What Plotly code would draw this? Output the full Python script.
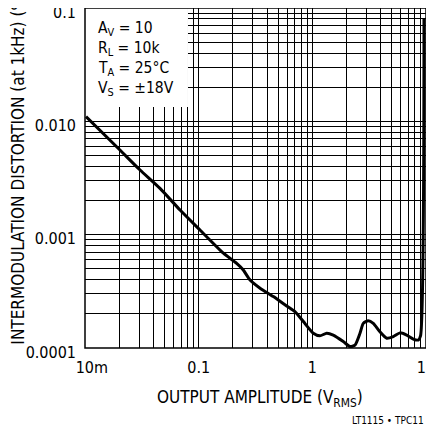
import plotly.graph_objects as go

# Output amplitude (V RMS) and intermodulation distortion (%)
amplitude = [0.0102, 0.0203, 0.0305, 0.0457, 0.0686, 0.1027, 0.165, 0.216, 0.247, 0.283,
             0.347, 0.454, 0.594, 0.703, 0.834, 1.02, 1.167, 1.337, 1.528, 1.872,
             2.144, 2.372, 2.626, 2.808, 3.107, 3.437, 3.936, 4.51, 5.155, 5.90,
             6.76, 7.73, 8.55, 8.95, 9.60]
distortion = [0.0110, 0.00558, 0.00372, 0.00256, 0.00165, 0.00110, 0.000686, 0.000558, 0.000488, 0.000398,
              0.000337, 0.000284, 0.000235, 0.000209, 0.000171, 0.000135, 0.000128, 0.000135, 0.000130, 0.000114,
              0.000103, 0.000106, 0.000135, 0.000165, 0.000174, 0.000165, 0.000139, 0.000122, 0.000126, 0.000136,
              0.000130, 0.000120, 0.0001176, 0.000128, 0.0817]

x_tickvals = [0.01, 0.1, 1, 10]
x_ticktext = ["\u00a0\u00a0\u00a010m", "0.1", "1", "10"]
y_tickvals = [0.0001, 0.001, 0.01, 0.1]
y_ticktext = ["0.0001", "0.001", "0.010", "0.1"]
minor_x = [m * d for d in (0.01, 0.1, 1) for m in range(2, 10)]
minor_y = [m * d for d in (0.0001, 0.001, 0.01) for m in range(2, 10)]

legend_lines = ["A<sub>V</sub> = 10", "R<sub>L</sub> = 10k",
                "T<sub>A</sub> = 25°C", "V<sub>S</sub> = ±18V"]

FONT = "Liberation Sans Narrow, DejaVu Sans Condensed, Arial Narrow, sans-serif"

fig = go.Figure()
fig.add_trace(go.Scatter(x=amplitude, y=distortion, mode="lines",
                         line=dict(color="black", width=3, shape="spline", smoothing=0.6),
                         showlegend=False, hoverinfo="skip"))

# the page body adds an 8px offset at top-left
fig.update_layout(
    width=426, height=419,
    margin=dict(l=77, r=8, t=0, b=79),
    paper_bgcolor="white", plot_bgcolor="white",
    font=dict(family=FONT, size=16, color="black"),
    showlegend=False,
)
fig.update_xaxes(type="log", range=[-2, 1.00005], automargin=False,
                 tickmode="array", tickvals=x_tickvals, ticktext=x_ticktext,
                 showgrid=True, gridcolor="black", gridwidth=1,
                 minor=dict(tickmode="array", tickvals=minor_x, showgrid=True,
                            gridcolor="black", gridwidth=1, ticks=""),
                 ticks="", showline=False, zeroline=False, ticklabeloverflow="allow",
                 tickfont=dict(size=16), ticklabelstandoff=8)
fig.update_yaxes(type="log", range=[-4, -0.99995], automargin=False,
                 tickmode="array", tickvals=y_tickvals, ticktext=y_ticktext,
                 showgrid=True, gridcolor="black", gridwidth=1,
                 minor=dict(tickmode="array", tickvals=minor_y, showgrid=True,
                            gridcolor="black", gridwidth=1, ticks=""),
                 ticks="", showline=False, zeroline=False, ticklabeloverflow="allow",
                 tickfont=dict(size=16), ticklabelstandoff=8, ticklabelshift=4)

# white legend box covering the grid
fig.add_shape(type="rect", xref="paper", yref="paper", x0=0, x1=0.302, y0=0.709, y1=1,
              fillcolor="white", line=dict(width=0), layer="above")
# frame
fig.add_shape(type="rect", xref="paper", yref="paper", x0=0, x1=1, y0=0, y1=1,
              fillcolor="rgba(0,0,0,0)", line=dict(color="black", width=1.5), layer="above")

for i, t in enumerate(legend_lines):
    fig.add_annotation(text=t, xref="paper", yref="paper", x=0.032, y=0.938 - i * 0.0585,
                       xanchor="left", yanchor="middle", showarrow=False,
                       font=dict(size=15.5, family=FONT))

fig.add_annotation(text="INTERMODULATION DISTORTION (at 1kHz) (%)", xref="paper", yref="paper",
                   x=-0.195, y=0.532, xanchor="center", yanchor="middle", textangle=-90,
                   showarrow=False, font=dict(size=17, family=FONT))
fig.add_annotation(text="OUTPUT AMPLITUDE (V<sub>RMS</sub>)", xref="paper", yref="paper",
                   x=0.513, y=-0.148, xanchor="center", yanchor="middle",
                   showarrow=False, font=dict(size=17, family=FONT))
fig.add_annotation(text="LT1115 • TPC11", xref="paper", yref="paper",
                   x=1.0, y=-0.212, xanchor="right", yanchor="middle",
                   showarrow=False, font=dict(size=10, family=FONT))

fig.write_html("out.html")
